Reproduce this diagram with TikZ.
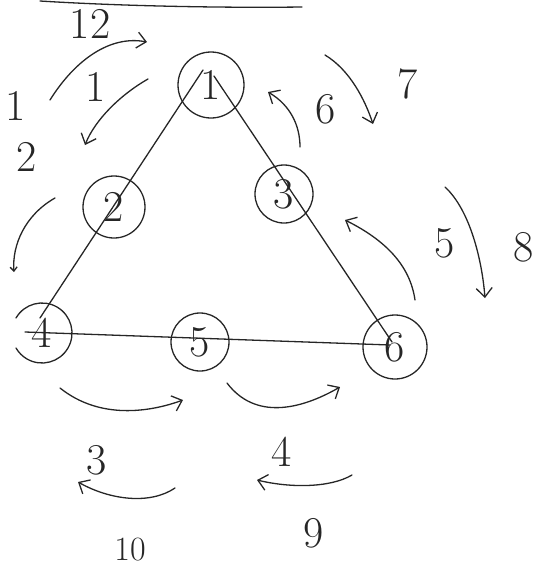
\documentclass[tikz,border=0pt]{standalone}
\usetikzlibrary{arrows.meta}
\begin{document}
\begin{tikzpicture}[x=1pt,y=-1pt,
  ink/.style={draw=black!85,line width=1.3pt,line cap=round,line join=round},
  circ/.style={ink,circle,minimum size=#1,inner sep=0pt},
  lab/.style={text=black!85,font=\fontsize{44}{44}\selectfont,inner sep=0pt},
  slab/.style={text=black!85,font=\fontsize{34}{34}\selectfont,inner sep=0pt},
  arr/.style={ink,-{Straight Barb[length=9pt,width=16pt,line width=1.3pt]}}]
\useasboundingbox (0,0) rectangle (548,582);
% top line
\coordinate (tl1) at (40,1);
\coordinate (tl2) at (302,7);
\draw[ink] (tl1) .. controls (120,6) and (220,8) .. (tl2);
% circles
\node[circ=66pt,lab] (n1) at (211,85) {1};
\node[circ=62pt,lab] (n2) at (114,207) {2};
\node[circ=58pt,lab] (n3) at (284,194) {3};
\node[lab,inner sep=0pt,minimum size=60pt] (n4) at (42,333) {4};
\draw[ink] (n4.center) ++(150:30pt) arc[start angle=150,end angle=-150,radius=30pt];
\node[circ=58pt,lab] (n5) at (200,342) {5};
\node[circ=64pt,lab] (n6) at (395,347) {6};
% triangle
\coordinate (e1l) at (203,70);
\coordinate (e1r) at (214,76);
\coordinate (e4) at (40,318);
\coordinate (e4b) at (25,332);
\coordinate (e6) at (392,342);
\coordinate (e6b) at (390,345);
\draw[ink] (e1l) -- (e4);
\draw[ink] (e1r) -- (e6);
\draw[ink] (e4b) -- (e6b);
% arrows
\coordinate (a12s) at (50,100); \coordinate (a12e) at (147,42);
\draw[arr] (a12s) .. controls (75,60) and (110,35) .. (a12e);
\coordinate (a1s) at (148,79); \coordinate (a1e) at (85,145);
\draw[arr] (a1s) .. controls (120,95) and (95,120) .. (a1e);
\coordinate (als) at (55,198); \coordinate (ale) at (14,272);
\draw[ink,-{Straight Barb[length=4pt,width=7pt,line width=1.3pt]}] (als) .. controls (25,215) and (12,245) .. (ale);
\coordinate (a6s) at (300,147); \coordinate (a6e) at (268,92);
\draw[arr] (a6s) .. controls (300,125) and (290,105) .. (a6e);
\coordinate (a7s) at (325,55); \coordinate (a7e) at (373,124);
\draw[arr] (a7s) .. controls (350,70) and (365,100) .. (a7e);
\coordinate (a5s) at (415,300); \coordinate (a5e) at (345,220);
\draw[arr] (a5s) .. controls (410,265) and (385,240) .. (a5e);
\coordinate (a8s) at (445,187); \coordinate (a8e) at (485,298);
\draw[arr] (a8s) .. controls (470,210) and (482,260) .. (a8e);
\coordinate (aas) at (60,388); \coordinate (aae) at (183,400);
\draw[arr] (aas) .. controls (100,420) and (150,412) .. (aae);
\coordinate (abs) at (227,383); \coordinate (abe) at (340,387);
\draw[arr] (abs) .. controls (255,420) and (300,410) .. (abe);
\coordinate (acs) at (352,475); \coordinate (ace) at (257,480);
\draw[arr] (acs) .. controls (330,488) and (290,488) .. (ace);
\coordinate (ads) at (175,488); \coordinate (ade) at (78,482);
\draw[arr] (ads) .. controls (150,505) and (110,500) .. (ade);
% labels
\node[lab] (l12) at (90,24) {12};
\node[lab] (l1) at (96,87) {1};
\node[lab] (lv1) at (16,106) {1};
\node[lab] (lv2) at (27,157) {2};
\node[lab] (l6) at (326,109) {6};
\node[lab] (l7) at (408,84) {7};
\node[lab] (l5) at (445,243) {5};
\node[lab] (l8) at (524,247) {8};
\node[lab] (l4) at (282,452) {4};
\node[lab] (l9) at (314,533) {9};
\node[lab] (l3) at (97,460) {3};
\node[slab] (l10) at (130,550) {10};
\end{tikzpicture}
\end{document}
